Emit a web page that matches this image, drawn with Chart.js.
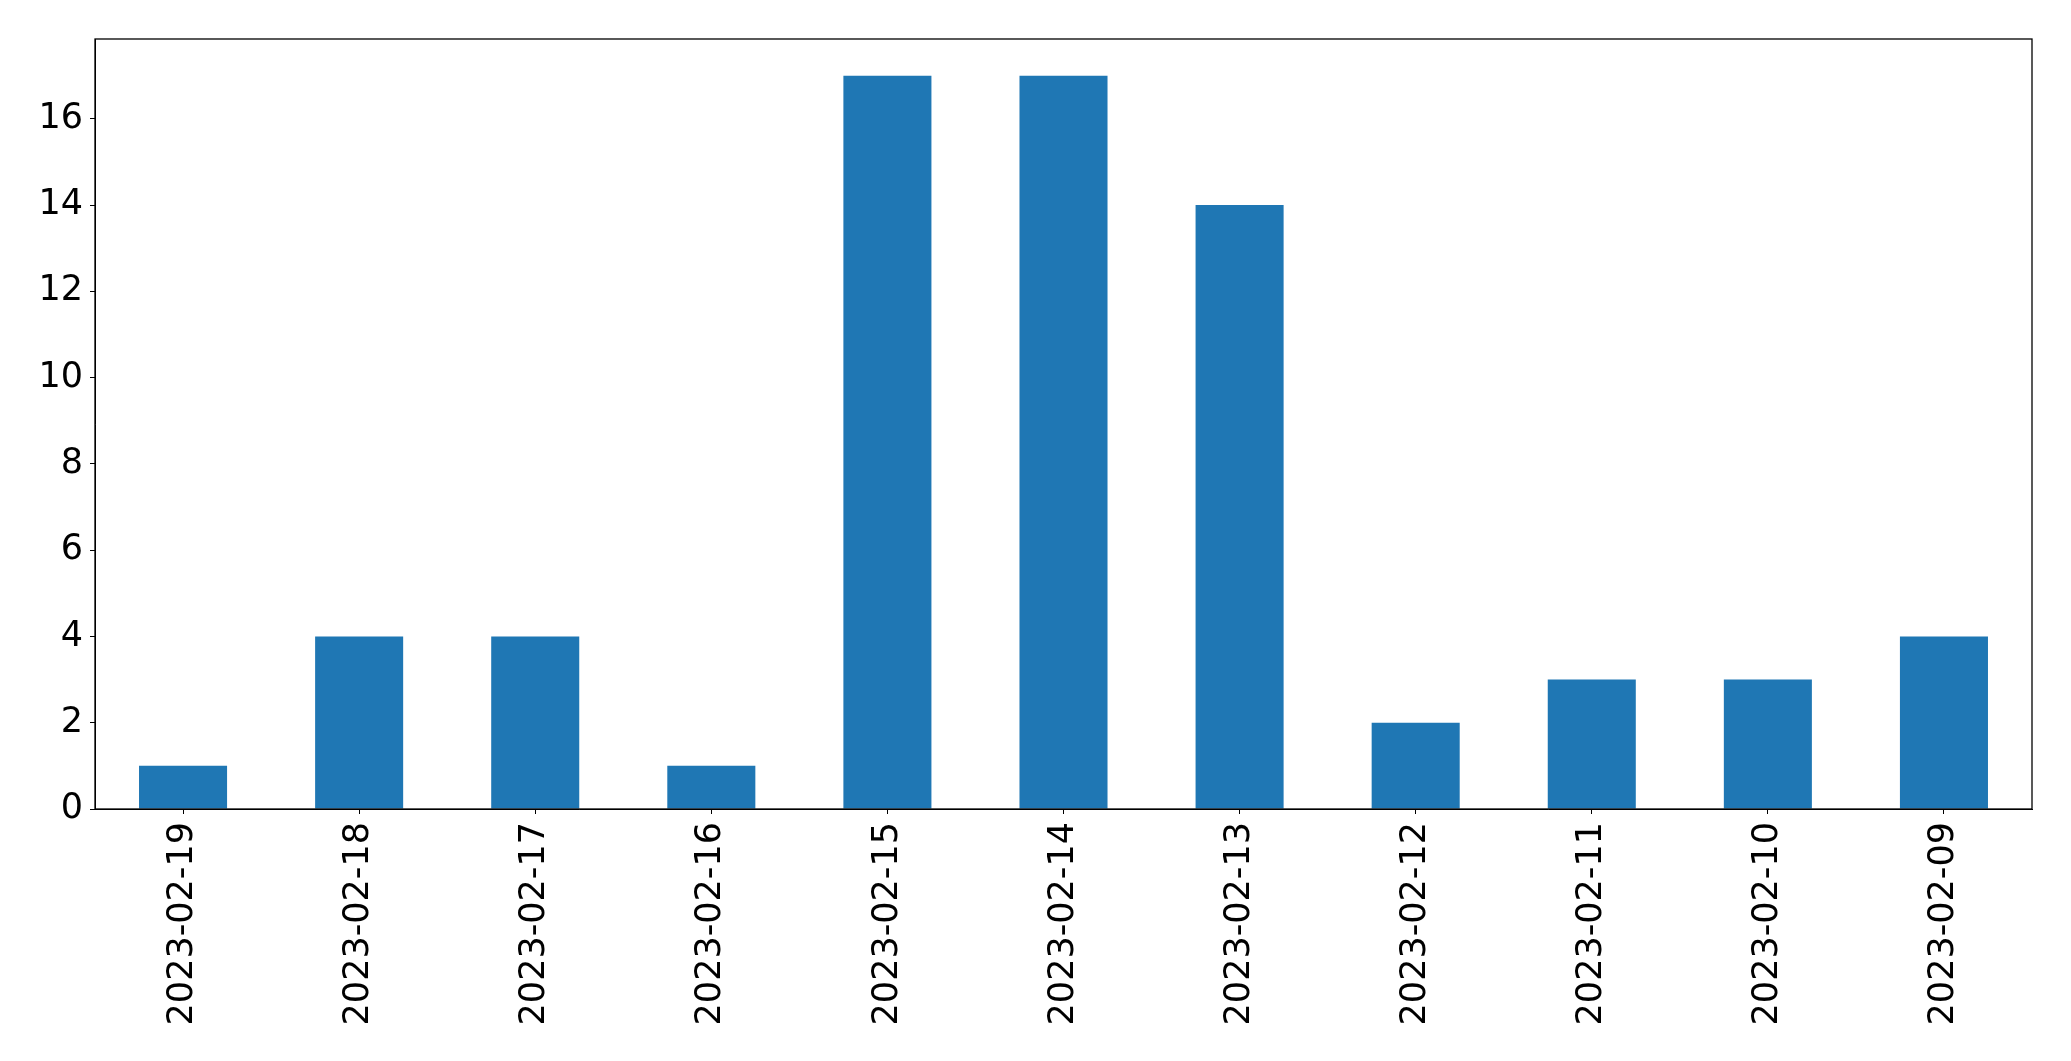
<!DOCTYPE html>
<html>
<head>
<meta charset="utf-8">
<script src="https://cdn.jsdelivr.net/npm/chart.js@4/dist/chart.umd.min.js"></script>
<style>
    html, body { margin: 0; padding: 0; background: #fff; }
    canvas { display: block; }
</style>
</head>
<body>
<canvas id="barChart" width="2071" height="1061"></canvas>
<script>
const dates = ['2023-02-19', '2023-02-18', '2023-02-17', '2023-02-16', '2023-02-15', '2023-02-14',
    '2023-02-13', '2023-02-12', '2023-02-11', '2023-02-10', '2023-02-09'];
const counts = [1, 4, 4, 1, 17, 17, 14, 2, 3, 3, 4];
const yTicks = [0, 2, 4, 6, 8, 10, 12, 14, 16];

// khung đen quanh vùng vẽ giống matplotlib
const framePlugin = {
    id: 'frame',
    afterDraw(chart) {
        const { ctx, chartArea } = chart;
        ctx.save();
        ctx.strokeStyle = '#000';
        ctx.lineWidth = 1.3;
        ctx.strokeRect(chartArea.left, chartArea.top, chartArea.right - chartArea.left, chartArea.bottom - chartArea.top);
        ctx.restore();
    }
};

const ctx = document.getElementById('barChart').getContext('2d');
new Chart(ctx, {
    type: 'bar',
    data: {
        labels: dates,
        datasets: [{
            data: counts,
            backgroundColor: '#1f77b4',
            barPercentage: 0.5,
            categoryPercentage: 1.0
        }]
    },
    options: {
        responsive: false,
        animation: false,
        layout: { padding: { top: 39, right: 39, left: 0, bottom: 0 } },
        plugins: { legend: { display: false }, tooltip: { enabled: false } },
        scales: {
            x: {
                grid: { display: true, offset: false, drawOnChartArea: false, drawTicks: true, tickLength: 5, color: '#000' },
                border: { display: true, color: '#000' },
                ticks: {
                    color: '#000',
                    font: { family: 'DejaVu Sans', size: 35 },
                    minRotation: 90,
                    maxRotation: 90,
                    padding: 8
                },
                afterFit(scale) { scale.height = 252; }
            },
            y: {
                min: 0,
                max: 17.85,
                grid: { display: true, drawOnChartArea: false, drawTicks: true, tickLength: 5, color: '#000' },
                border: { display: true, color: '#000' },
                ticks: {
                    color: '#000',
                    font: { family: 'DejaVu Sans', size: 35 },
                    stepSize: 2,
                    includeBounds: false,
                    padding: 7
                },
                afterBuildTicks(scale) {
                    scale.ticks = yTicks.map(v => ({ value: v }));
                },
                afterFit(scale) { scale.width = 95; }
            }
        }
    },
    plugins: [framePlugin]
});
</script>
</body>
</html>
